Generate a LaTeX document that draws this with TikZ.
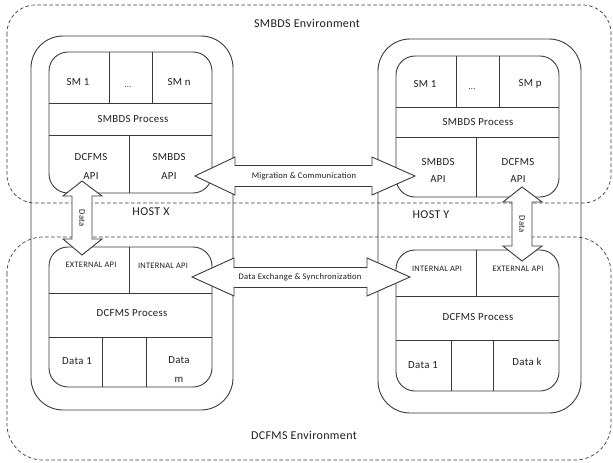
\documentclass[tikz,border=0pt]{standalone}
\usepackage{fontspec}
\setmainfont{Carlito}[LetterSpace=3]
\definecolor{ln}{HTML}{3A3A3A}
\definecolor{tx}{HTML}{1E1E1E}
\tikzset{
  envbox/.style={draw=ln, line width=0.7pt, dash pattern=on 3.5pt off 2.5pt},
  hostbox/.style={draw=ln, line width=0.9pt, rounded corners=32pt},
  stackbox/.style={draw=ln, line width=0.9pt, rounded corners=19pt},
  cellline/.style={draw=ln, line width=0.9pt},
  blockarrow/.style={draw=ln, line width=0.9pt, fill=white},
  lbl/.style={text=tx, inner sep=0pt, font=\fontsize{10.8}{12}\selectfont},
  small/.style={text=tx, inner sep=0pt, font=\fontsize{8.4}{9.5}\selectfont},
  big/.style={text=tx, inner sep=0pt, font=\fontsize{12}{14}\selectfont},
  arr/.style={text=tx, inner sep=0pt, font=\fontsize{8.6}{10}\selectfont},
}
\begin{document}
\begin{tikzpicture}[x=1pt,y=-1pt]
\useasboundingbox (0,0) rectangle (613,463);
% environments
\draw[envbox, rounded corners=28pt] (7,5) rectangle (611,203);
\draw[envbox, rounded corners=36pt] (7,237) rectangle (611,460);
\node[big] (smenv) at (307,23) {SMBDS Environment};
\node[big] (dcenv) at (304,435) {DCFMS Environment};
% hosts
\draw[hostbox] (31,36) rectangle (233,410);
\draw[hostbox] (378,39) rectangle (581,413);
\node[big] (hx) at (151,212) {HOST X};
\node[big] (hy) at (431,215) {HOST Y};
% ---- Host X, SMBDS stack
\draw[stackbox] (49,52) rectangle (212,193);
\draw[cellline] (49,103) -- (212,103) (49,135) -- (212,135)
  (109,52) -- (109,103) (152,52) -- (152,103) (129,135) -- (129,193);
\node[lbl] (xsm1) at (78,82) {SM 1};
\node[small] (xsmd) at (128,87) {...};
\node[lbl] (xsmn) at (179,82) {SM n};
\node[lbl] (xsp) at (133,119) {SMBDS Process};
\node[lbl] (xdapi) at (91,157) {DCFMS};
\node[lbl] (xdapi2) at (91,176) {API};
\node[lbl] (xsapi) at (169,157) {SMBDS};
\node[lbl] (xsapi2) at (169,176) {API};
% ---- Host X, DCFMS stack
\draw[stackbox] (49,247) rectangle (212,387);
\draw[cellline] (49,293) -- (212,293) (49,337) -- (212,337)
  (129,247) -- (129,293) (102,337) -- (102,387) (146,337) -- (146,387);
\node[small] (xext) at (91,265) {EXTERNAL API};
\node[small] (xint) at (163,266) {INTERNAL API};
\node[lbl] (xdp) at (132,313) {DCFMS Process};
\node[lbl] (xd1) at (77,361) {Data 1};
\node[lbl] (xdm) at (179,360) {Data};
\node[lbl] (xdm2) at (179,380) {m};
% ---- Host Y, SMBDS stack
\draw[stackbox] (396,56) rectangle (559,197);
\draw[cellline] (396,107) -- (559,107) (396,137) -- (559,137)
  (456,56) -- (456,107) (499,56) -- (499,107) (476,137) -- (476,197);
\node[lbl] (ysm1) at (425,84) {SM 1};
\node[small] (ysmd) at (472,89) {...};
\node[lbl] (ysmp) at (530,84) {SM p};
\node[lbl] (ysp) at (478,122) {SMBDS Process};
\node[lbl] (ysapi) at (438,162) {SMBDS};
\node[lbl] (ysapi2) at (438,179) {API};
\node[lbl] (ydapi) at (518,162) {DCFMS};
\node[lbl] (ydapi2) at (518,179) {API};
% ---- Host Y, DCFMS stack
\draw[stackbox] (396,250) rectangle (559,391);
\draw[cellline] (396,296) -- (559,296) (396,340) -- (559,340)
  (476,250) -- (476,296) (451,340) -- (451,391) (493,340) -- (493,391);
\node[small] (yint) at (437,269) {INTERNAL API};
\node[small] (yext) at (518,269) {EXTERNAL API};
\node[lbl] (ydp) at (478,317) {DCFMS Process};
\node[lbl] (yd1) at (423,365) {Data 1};
\node[lbl] (ydk) at (527,362) {Data k};
% ---- block arrows
\draw[blockarrow] (195,176) -- (235,157) -- (235,165.5) -- (372,165.5) -- (372,157)
  -- (415,176) -- (372,195) -- (372,186.5) -- (235,186.5) -- (235,195) -- cycle;
\node[arr] (mig) at (304,176) {Migration \& Communication};
\draw[blockarrow] (192,277) -- (234,258) -- (234,267.5) -- (367,267.5) -- (367,258)
  -- (410,277) -- (367,296) -- (367,287.5) -- (234,287.5) -- (234,296) -- cycle;
\node[arr] (dex) at (300,277) {Data Exchange \& Synchronization};
\draw[blockarrow] (82,181) -- (102,196) -- (92,196) -- (92,239) -- (102,239)
  -- (82,255) -- (63,239) -- (72,239) -- (72,196) -- (63,196) -- cycle;
\node[arr, rotate=-90] (dl) at (82,218) {Data};
\draw[blockarrow] (522,187) -- (542,202) -- (532,202) -- (532,246) -- (542,246)
  -- (522,261) -- (503,246) -- (512,246) -- (512,202) -- (503,202) -- cycle;
\node[arr, rotate=-90] (dr) at (522,224) {Data};
\end{tikzpicture}
\end{document}
